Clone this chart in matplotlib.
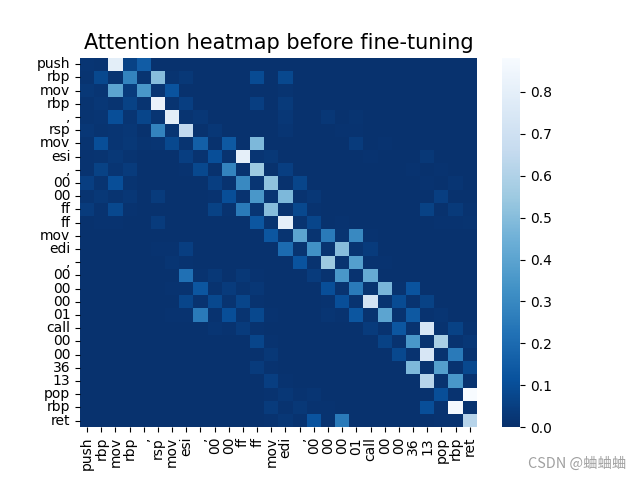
import numpy as np
import matplotlib
matplotlib.use("Agg")
import matplotlib.pyplot as plt
import seaborn as sns

tokens = ["push", "rbp", "mov", "rbp", ",", "rsp", "mov", "esi", ",", "00", "00", "ff", "ff", "mov",
          "edi", ",", "00", "00", "00", "01", "call", "00", "00", "36", "13", "pop", "rbp", "ret"]

background = 0.008
# non-background attention weights per row: {column: value}
row_weights = [
    {0: .02, 1: .015, 2: .79, 3: .06, 4: .15},
    {0: .015, 1: .08, 2: .015, 3: .28, 4: .015, 5: .5, 6: .015, 7: .03, 12: .09, 14: .08},
    {0: .03, 1: .02, 2: .4, 3: .04, 4: .35, 5: .02, 6: .12, 14: .015},
    {0: .015, 1: .025, 2: .015, 3: .06, 4: .015, 5: .82, 6: .015, 7: .05, 12: .05, 14: .035},
    {0: .015, 1: .02, 2: .1, 3: .02, 4: .07, 5: .02, 6: .79, 7: .015, 8: .025, 14: .025, 17: .025, 19: .015},
    {0: .025, 1: .015, 2: .02, 3: .025, 5: .28, 6: .02, 7: .65, 9: .025, 14: .02, 18: .012, 19: .012},
    {0: .015, 1: .1, 2: .02, 3: .03, 4: .015, 5: .02, 6: .08, 7: .015, 8: .16, 10: .14, 12: .48, 19: .04, 21: .012, 23: .01},
    {0: .012, 1: .015, 2: .03, 3: .015, 7: .05, 8: .012, 9: .1, 10: .012, 11: .8, 12: .02, 13: .03, 20: .012, 24: .03},
    {0: .012, 1: .06, 2: .02, 3: .04, 7: .012, 8: .08, 10: .28, 11: .012, 12: .55, 14: .05, 23: .012, 25: .012},
    {0: .05, 1: .015, 2: .1, 3: .015, 9: .05, 10: .012, 11: .3, 12: .02, 13: .52, 14: .01, 15: .07, 24: .012, 26: .02},
    {0: .015, 1: .03, 2: .015, 3: .025, 5: .04, 9: .012, 10: .1, 11: .012, 12: .35, 13: .02, 14: .48, 15: .012, 16: .025, 25: .05, 27: .01},
    {0: .04, 1: .012, 2: .08, 3: .012, 9: .06, 10: .012, 11: .25, 12: .02, 13: .5, 14: .012, 15: .08, 16: .012, 24: .06, 26: .035, 27: .012},
    {1: .012, 2: .012, 5: .04, 12: .13, 13: .015, 14: .8, 15: .015, 16: .07, 18: .012, 25: .012, 26: .012, 27: .015},
    {13: .13, 14: .015, 15: .4, 16: .015, 17: .25, 18: .015, 19: .3, 20: .012},
    {5: .012, 6: .012, 7: .05, 14: .2, 15: .015, 16: .33, 17: .015, 18: .5, 19: .015, 20: .04},
    {6: .02, 7: .012, 15: .12, 16: .012, 17: .55, 18: .012, 19: .38, 20: .012, 21: .012},
    {7: .22, 8: .012, 9: .03, 11: .03, 12: .012, 16: .04, 17: .012, 18: .35, 19: .012, 20: .43},
    {6: .012, 7: .012, 8: .13, 9: .012, 10: .04, 11: .015, 12: .025, 17: .1, 18: .012, 19: .25, 20: .015, 21: .47, 22: .012, 23: .12},
    {7: .07, 8: .012, 9: .08, 10: .015, 11: .07, 12: .012, 17: .012, 18: .1, 19: .012, 20: .72, 21: .012, 22: .09, 23: .012, 24: .06},
    {6: .012, 7: .012, 8: .25, 9: .012, 10: .1, 11: .015, 12: .08, 13: .012, 17: .02, 18: .012, 19: .13, 20: .012, 21: .4, 22: .012, 23: .14, 24: .012, 25: .02},
    {9: .02, 10: .012, 11: .04, 12: .012, 20: .04, 21: .012, 22: .13, 23: .012, 24: .74, 25: .012, 26: .06, 27: .012},
    {10: .008, 12: .07, 13: .012, 21: .06, 22: .012, 23: .35, 24: .012, 25: .58, 26: .012, 27: .025},
    {13: .03, 22: .08, 23: .012, 24: .74, 25: .012, 26: .25, 27: .012},
    {12: .04, 13: .012, 21: .01, 23: .48, 24: .012, 25: .38, 26: .012, 27: .08},
    {13: .05, 14: .012, 24: .62, 25: .012, 26: .35, 27: .012},
    {13: .012, 14: .025, 15: .012, 16: .02, 25: .1, 26: .012, 27: .882},
    {13: .04, 14: .012, 15: .03, 16: .012, 17: .012, 24: .1, 25: .012, 26: .865, 27: .012},
    {13: .012, 14: .025, 15: .012, 16: .12, 17: .012, 18: .25, 25: .012, 26: .012, 27: .62},
]

matrix = np.full((len(tokens), len(tokens)), background)
for row, weights in enumerate(row_weights):
    for col, value in weights.items():
        matrix[row, col] = value

fig, ax = plt.subplots(figsize=(6.4, 4.8), dpi=100)
sns.heatmap(matrix, cmap="Blues_r", vmin=0, vmax=0.882, xticklabels=tokens, yticklabels=tokens, ax=ax)
ax.tick_params(axis="y", labelrotation=0)
ax.tick_params(axis="x", labelrotation=90)
ax.set_title("Attention heatmap before fine-tuning", fontsize=15)
fig.text(626 / 640, 1 - 464 / 480, "CSDN @蛐蛐蛐", ha="right", va="center", fontsize=10.4, color="#a0a0a0",
         family=["Noto Sans CJK SC", "DejaVu Sans"])
fig.savefig("out.png", dpi=100)
